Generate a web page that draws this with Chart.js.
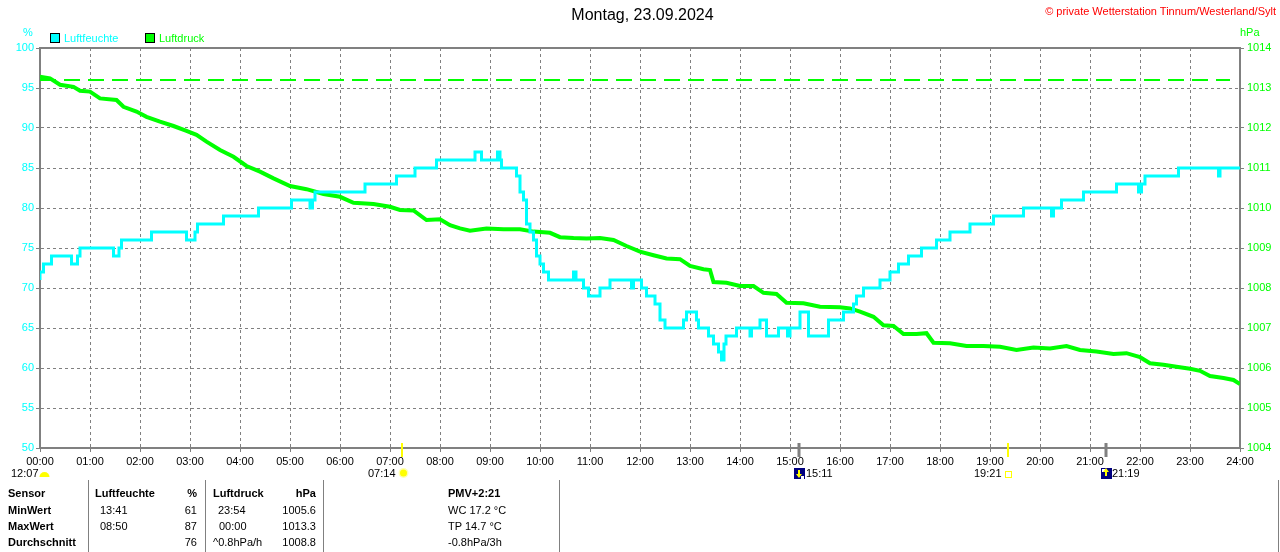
<!DOCTYPE html>
<html lang="de">
<head>
<meta charset="utf-8">
<title>Montag, 23.09.2024</title>
<script src="https://cdn.jsdelivr.net/npm/chart.js@4.4.1/dist/chart.umd.min.js"></script>
<style>
  body { margin: 0; background: #fff; font-family: "Liberation Sans", Arial, sans-serif; }
  #wrap { position: relative; width: 1280px; height: 552px; overflow: hidden; background: #fff; }
  #wrap canvas { position: absolute; left: 0; top: 0; }
  .t { position: absolute; font-size: 11px; line-height: 13px; white-space: nowrap; color: #000; }
  .b { font-weight: bold; }
  .r { text-align: right; width: 60px; }
  .linie { position: absolute; width: 1px; top: 480px; height: 72px; background: #808080; }
  .kasten { position: absolute; width: 8px; height: 8px; border: 1px solid #000; top: 33px; }
</style>
</head>
<body>
<div id="wrap">
  <canvas id="grafik" width="1280" height="552"></canvas>

  <div class="t" style="left:0;width:1285px;text-align:center;top:6px;font-size:16px;line-height:18px;">Montag, 23.09.2024</div>
  <div class="t" style="right:4px;top:5px;color:#ff0000;">© private Wetterstation Tinnum/Westerland/Sylt</div>

  <div class="t" style="left:23px;top:26px;color:#00ffff;">%</div>
  <div class="t" style="left:1240px;top:26px;color:#00ff00;">hPa</div>

  <div class="kasten" style="left:50px;background:#00ffff;"></div>
  <div class="t" style="left:64px;top:32px;color:#00ffff;">Luftfeuchte</div>
  <div class="kasten" style="left:145px;background:#00ff00;"></div>
  <div class="t" style="left:159px;top:32px;color:#00ff00;">Luftdruck</div>

  <div class="t" style="left:11px;top:467px;">12:07</div>
  <div class="t" style="left:368px;top:467px;">07:14</div>
  <div class="t" style="left:806px;top:467px;">15:11</div>
  <div class="t" style="left:974px;top:467px;">19:21</div>
  <div class="t" style="left:1112px;top:467px;">21:19</div>

  <div class="linie" style="left:88px;"></div>
  <div class="linie" style="left:205px;"></div>
  <div class="linie" style="left:323px;"></div>
  <div class="linie" style="left:559px;"></div>
  <div class="linie" style="left:1278px;"></div>

  <div class="t b" style="left:8px;top:487px;">Sensor</div>
  <div class="t b" style="left:8px;top:504px;">MinWert</div>
  <div class="t b" style="left:8px;top:520px;">MaxWert</div>
  <div class="t b" style="left:8px;top:536px;">Durchschnitt</div>

  <div class="t b" style="left:95px;top:487px;">Luftfeuchte</div>
  <div class="t b r" style="left:137px;top:487px;">%</div>
  <div class="t" style="left:100px;top:504px;">13:41</div>
  <div class="t r" style="left:137px;top:504px;">61</div>
  <div class="t" style="left:100px;top:520px;">08:50</div>
  <div class="t r" style="left:137px;top:520px;">87</div>
  <div class="t r" style="left:137px;top:536px;">76</div>

  <div class="t b" style="left:213px;top:487px;">Luftdruck</div>
  <div class="t b r" style="left:256px;top:487px;">hPa</div>
  <div class="t" style="left:218px;top:504px;">23:54</div>
  <div class="t r" style="left:256px;top:504px;">1005.6</div>
  <div class="t" style="left:219px;top:520px;">00:00</div>
  <div class="t r" style="left:256px;top:520px;">1013.3</div>
  <div class="t" style="left:213px;top:536px;">^0.8hPa/h</div>
  <div class="t r" style="left:256px;top:536px;">1008.8</div>

  <div class="t b" style="left:448px;top:487px;">PMV+2:21</div>
  <div class="t" style="left:448px;top:504px;">WC 17.2 °C</div>
  <div class="t" style="left:448px;top:520px;">TP 14.7 °C</div>
  <div class="t" style="left:448px;top:536px;">-0.8hPa/3h</div>
</div>

<script>
// Achsenbeschriftung der Zeit
const stundenTicks = ['00:00', '01:00', '02:00', '03:00', '04:00', '05:00', '06:00', '07:00',
  '08:00', '09:00', '10:00', '11:00', '12:00', '13:00', '14:00', '15:00', '16:00', '17:00',
  '18:00', '19:00', '20:00', '21:00', '22:00', '23:00', '24:00'];

// Luftfeuchte (%), Zeit in Stunden, Stufen
const feuchteZeit = [0, 0.07, 0.23, 0.63, 0.75, 0.8, 1.47, 1.58, 1.63, 2.23, 2.93, 3.1, 3.15,
  3.67, 4.37, 5.03, 5.4, 5.45, 5.5, 6.5, 7.13, 7.5, 7.93, 8.7, 8.83, 9.15, 9.2, 9.23,
  9.53, 9.6, 9.67, 9.73, 9.8, 9.87, 9.93, 10.0, 10.07, 10.17, 10.67, 10.72, 10.87, 10.97,
  11.2, 11.4, 11.83, 11.87, 12.03, 12.13, 12.3, 12.4, 12.5, 12.87, 12.93, 13.13, 13.17,
  13.37, 13.47, 13.57, 13.63, 13.68, 13.72, 13.93, 14.2, 14.23, 14.4, 14.53, 14.77, 14.95,
  15.0, 15.2, 15.37, 15.77, 16.07, 16.27, 16.33, 16.47, 16.8, 17.0, 17.17, 17.37, 17.63,
  17.93, 18.2, 18.6, 19.07, 19.67, 20.23, 20.27, 20.43, 20.87, 21.53, 21.97, 22.03, 22.1,
  22.77, 23.57, 23.6, 23.97, 24];
const feuchteWert = [71, 72, 73, 74, 73, 74, 75, 74, 75, 76, 77, 76, 77,
  78, 79, 80, 81, 80, 81, 82, 83, 84, 85, 86, 87, 86, 87, 86,
  85, 84, 82, 81, 78, 77, 76, 74, 73, 72, 71, 72, 71, 70,
  69, 70, 71, 70, 71, 70, 69, 68, 66, 65, 66, 67, 66,
  65, 64, 63, 62, 61, 63, 64, 65, 64, 65, 66, 64, 65,
  64, 65, 67, 64, 66, 67, 68, 69, 70, 71, 72, 73, 74,
  75, 76, 77, 78, 79, 80, 79, 80, 81, 82, 83, 82, 83,
  84, 85, 84, 85, 85];

// Luftdruck (hPa)
const druckZeit = [0, 0.2, 0.4, 0.67, 0.8, 1.0, 1.2, 1.53, 1.67, 1.93, 2.13, 2.4, 2.67, 2.93,
  3.13, 3.33, 3.6, 3.87, 4.13, 4.4, 4.67, 5.0, 5.33, 5.67, 6.0, 6.27, 6.67, 7.0, 7.2, 7.47,
  7.73, 8.0, 8.2, 8.4, 8.6, 8.93, 9.27, 9.6, 9.87, 10.2, 10.4, 10.67, 10.93, 11.2, 11.47,
  11.73, 12.0, 12.27, 12.53, 12.8, 13.0, 13.27, 13.4, 13.47, 13.73, 14.0, 14.27, 14.47,
  14.73, 14.93, 15.27, 15.6, 16.0, 16.2, 16.4, 16.67, 16.87, 17.07, 17.27, 17.53, 17.73,
  17.87, 18.2, 18.53, 18.87, 19.2, 19.53, 19.87, 20.2, 20.53, 20.8, 21.13, 21.47, 21.73,
  22.0, 22.2, 22.47, 22.73, 23.0, 23.2, 23.4, 23.67, 23.87, 24];
const druckWert = [1013.28, 1013.24, 1013.08, 1013.03, 1012.93, 1012.91, 1012.74, 1012.70,
  1012.53, 1012.41, 1012.28, 1012.16, 1012.05, 1011.93, 1011.83, 1011.66, 1011.45, 1011.28,
  1011.05, 1010.91, 1010.74, 1010.55, 1010.47, 1010.35, 1010.28, 1010.13, 1010.10, 1010.03,
  1009.95, 1009.94, 1009.70, 1009.72, 1009.57, 1009.49, 1009.43, 1009.49, 1009.47, 1009.47,
  1009.41, 1009.38, 1009.27, 1009.25, 1009.24, 1009.25, 1009.20, 1009.05, 1008.91, 1008.82,
  1008.74, 1008.72, 1008.55, 1008.47, 1008.45, 1008.15, 1008.13, 1008.05, 1008.05, 1007.88,
  1007.85, 1007.63, 1007.62, 1007.53, 1007.52, 1007.49, 1007.41, 1007.28, 1007.07, 1007.05,
  1006.85, 1006.85, 1006.87, 1006.63, 1006.62, 1006.55, 1006.55, 1006.53, 1006.45, 1006.51,
  1006.49, 1006.55, 1006.45, 1006.41, 1006.35, 1006.37, 1006.27, 1006.12, 1006.08, 1006.03,
  1005.98, 1005.93, 1005.80, 1005.75, 1005.70, 1005.60];

// gestrichelte Linie (hPa)
const linieZeit = [0, 23.8];
const linieWert = [1013.2, 1013.2];

// Sonne / Mond: Aufgang, Untergang
const astroZeit = [7.233, 15.183, 19.35, 21.317];
const astroArt = ['sonnenaufgang', 'monduntergang', 'sonnenuntergang', 'mondaufgang'];

const schrift = '"Liberation Sans", Arial, sans-serif';
Chart.defaults.font.family = schrift;
Chart.defaults.font.size = 11;

const rahmen = {
  id: 'rahmen',
  beforeDatasetsDraw(chart) {
    const { ctx, chartArea: a } = chart;
    ctx.save();
    ctx.strokeStyle = '#808080';
    ctx.lineWidth = 2;
    ctx.strokeRect(a.left, a.top, a.right - a.left, a.bottom - a.top);
    ctx.restore();
  }
};

function pfeil(ctx, x, y, runter) {
  ctx.fillStyle = '#ffff00';
  ctx.fillRect(x - 1, y - 3, 2, 6);
  ctx.beginPath();
  if (runter) {
    ctx.moveTo(x - 3, y + 1); ctx.lineTo(x + 3, y + 1); ctx.lineTo(x, y + 5);
  } else {
    ctx.moveTo(x - 3, y - 1); ctx.lineTo(x + 3, y - 1); ctx.lineTo(x, y - 5);
  }
  ctx.fill();
}

const astro = {
  id: 'astro',
  afterDraw(chart) {
    const { ctx, chartArea: a } = chart;
    const sx = chart.scales.x;
    ctx.save();
    // Tageslicht-Symbol bei 00:00
    const x0 = sx.getPixelForValue(0);
    ctx.fillStyle = '#ffff00';
    ctx.beginPath();
    ctx.arc(x0 + 4.5, a.bottom + 29, 5, Math.PI, 0);
    ctx.fill();

    astroZeit.forEach((t, i) => {
      const x = Math.round(sx.getPixelForValue(t));
      const art = astroArt[i];
      const sonne = art.startsWith('sonne');
      ctx.fillStyle = sonne ? '#ffff00' : '#808080';
      ctx.fillRect(x - (sonne ? 1 : 1.5), a.bottom - 5, sonne ? 2 : 3, 14);
      const y = a.bottom + 25;
      if (art === 'sonnenaufgang') {
        ctx.fillStyle = '#ffffb0';
        ctx.beginPath(); ctx.arc(x + 1.5, y, 5, 0, Math.PI * 2); ctx.fill();
        ctx.fillStyle = '#ffff00';
        ctx.beginPath(); ctx.arc(x + 1.5, y, 3.5, 0, Math.PI * 2); ctx.fill();
      } else if (art === 'sonnenuntergang') {
        ctx.strokeStyle = '#ffff00';
        ctx.lineWidth = 1;
        ctx.strokeRect(x - 2.5, y - 1.5, 6, 6);
      } else {
        ctx.fillStyle = '#000080';
        ctx.fillRect(x - 5, y - 5, 11, 11);
        ctx.fillStyle = '#ffffff';
        if (art === 'monduntergang') ctx.fillRect(x + 2, y + 3, 3, 3);
        else ctx.fillRect(x - 4, y - 4, 3, 3);
        pfeil(ctx, x, y, art === 'monduntergang');
      }
    });
    ctx.restore();
  }
};

const gitter = { color: '#808080', lineWidth: 1, tickLength: 4 };
const rand = { display: true, color: '#808080', width: 2, dash: [3, 3] };

new Chart(document.getElementById('grafik'), {
  type: 'line',
  data: {
    datasets: [
      {
        label: 'Luftfeuchte',
        data: feuchteZeit.map((x, i) => ({ x, y: feuchteWert[i] })),
        yAxisID: 'yFeuchte',
        borderColor: '#00ffff',
        borderWidth: 3,
        pointRadius: 0,
        stepped: 'after'
      },
      {
        label: 'Luftdruck',
        data: druckZeit.map((x, i) => ({ x, y: druckWert[i] })),
        yAxisID: 'yDruck',
        borderColor: '#00ff00',
        borderWidth: 4,
        pointRadius: 0
      },
      {
        label: 'Linie',
        data: linieZeit.map((x, i) => ({ x, y: linieWert[i] })),
        yAxisID: 'yDruck',
        borderColor: '#00ff00',
        borderWidth: 2,
        borderDash: [16, 8],
        pointRadius: 0
      }
    ]
  },
  options: {
    responsive: false,
    animation: false,
    events: [],
    layout: { padding: { top: 48, bottom: 84, left: 0, right: 0 } },
    plugins: { legend: { display: false }, tooltip: { enabled: false } },
    scales: {
      x: {
        type: 'linear',
        min: 0,
        max: 24,
        ticks: {
          stepSize: 1,
          autoSkip: false,
          maxRotation: 0,
          color: '#000000',
          padding: 3,
          callback: (v) => stundenTicks[Math.round(v)]
        },
        grid: gitter,
        border: rand,
        afterFit: (s) => { s.height = 20; }
      },
      yFeuchte: {
        position: 'left',
        min: 50,
        max: 100,
        ticks: { stepSize: 5, color: '#00ffff', padding: 2, callback: (v) => String(v) },
        grid: gitter,
        border: rand,
        afterFit: (s) => { s.width = 40; }
      },
      yDruck: {
        position: 'right',
        min: 1004,
        max: 1014,
        ticks: { stepSize: 1, color: '#00ff00', padding: 3, callback: (v) => String(v) },
        grid: { color: '#808080', lineWidth: 1, tickLength: 4, drawOnChartArea: false },
        border: { display: true, color: '#808080', width: 2 },
        afterFit: (s) => { s.width = 40; }
      }
    }
  },
  plugins: [rahmen, astro]
});
</script>
</body>
</html>
